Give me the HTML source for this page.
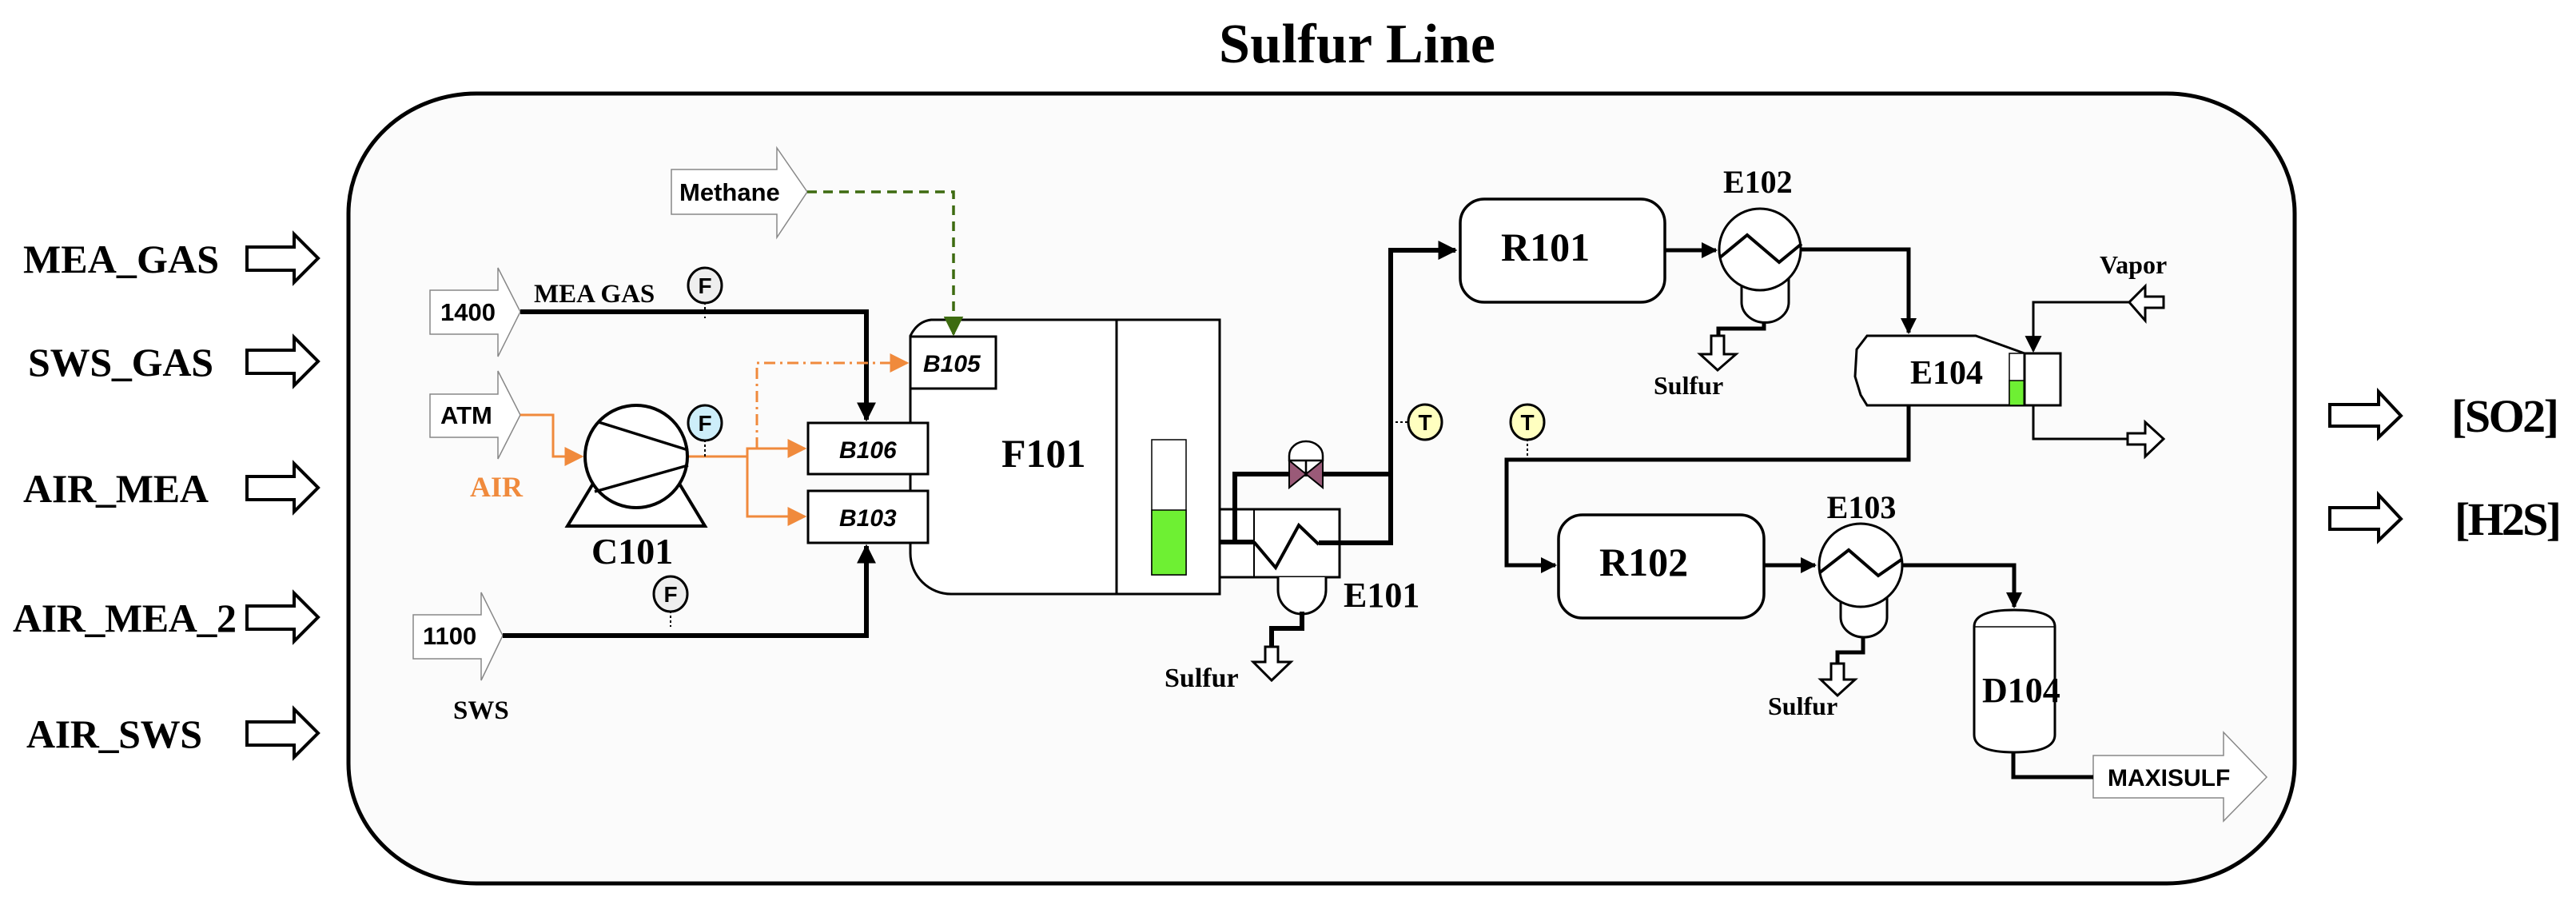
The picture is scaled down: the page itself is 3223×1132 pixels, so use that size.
<!DOCTYPE html>
<html><head><meta charset="utf-8"><style>
html,body{margin:0;padding:0;background:#fff}
svg{display:block}
.s{font-family:"Liberation Serif",serif;font-weight:bold}
.a{font-family:"Liberation Sans",sans-serif;font-weight:bold}
</style></head><body>
<svg width="3223" height="1132" viewBox="0 0 3223 1132" xmlns="http://www.w3.org/2000/svg">
<defs>
<marker id="ab" viewBox="0 0 10 10" refX="9" refY="5" markerWidth="4" markerHeight="4" orient="auto" markerUnits="strokeWidth"><path d="M0,0L10,5L0,10z" fill="#000"/></marker>
<marker id="ab2" viewBox="0 0 10 10" refX="9" refY="5" markerWidth="7" markerHeight="7" orient="auto" markerUnits="strokeWidth"><path d="M0,0L10,5L0,10z" fill="#000"/></marker>
<marker id="ao" viewBox="0 0 10 10" refX="9" refY="5" markerWidth="8" markerHeight="8" orient="auto" markerUnits="strokeWidth"><path d="M0,0L10,5L0,10z" fill="#f08a3c"/></marker>
<marker id="ag" viewBox="0 0 10 10" refX="9" refY="5" markerWidth="7" markerHeight="7" orient="auto" markerUnits="strokeWidth"><path d="M0,0L10,5L0,10z" fill="#3d6b10"/></marker>
</defs>
<text x="1698" y="78" class="s" font-size="70" text-anchor="middle" textLength="346">Sulfur Line</text>
<rect x="436" y="117" width="2435" height="988" rx="160" ry="150" fill="#fbfbfb" stroke="#000" stroke-width="5"/>

<!-- left labels -->
<g class="s" font-size="50">
<text x="29" y="341" textLength="245">MEA_GAS</text>
<text x="35" y="470" textLength="232">SWS_GAS</text>
<text x="29" y="628" textLength="232">AIR_MEA</text>
<text x="16" y="790" textLength="280">AIR_MEA_2</text>
<text x="33" y="935" textLength="220">AIR_SWS</text>
</g>
<g fill="#fff" stroke="#000" stroke-width="4">
<path d="M309,309H368V293L398,323L368,353V338H309Z"/>
<path d="M309,438H368V422L398,452L368,482V467H309Z"/>
<path d="M309,596H368V580L398,610L368,640V625H309Z"/>
<path d="M309,758H368V742L398,772L368,802V787H309Z"/>
<path d="M309,903H368V887L398,917L368,947V932H309Z"/>
<path d="M2915,506H2976V490L3004,520L2976,547V533H2915Z"/>
<path d="M2915,635H2976V619L3004,649L2976,676V662H2915Z"/>
</g>
<text x="3067" y="540" class="s" font-size="58" textLength="135">[SO2]</text>
<text x="3071" y="669" class="s" font-size="58" textLength="134">[H2S]</text>

<!-- feed arrows -->
<g fill="#fff" stroke="#888" stroke-width="1.5">
<path d="M840,212H972V185L1010,240L972,297V268H840Z"/>
<path d="M538,363H623V335L651,390L623,446V418H538Z"/>
<path d="M538,493H623V464L651,519L623,574V547H538Z"/>
<path d="M517,769H602V741L629,795L602,851V824H517Z"/>
<path d="M2619,945H2782V916L2836,972L2782,1027V998H2619Z"/>
</g>
<g class="a" font-size="31">
<text x="850" y="251">Methane</text>
<text x="551" y="401">1400</text>
<text x="551" y="530">ATM</text>
<text x="529" y="806">1100</text>
<text x="2637" y="983" font-size="30">MAXISULF</text>
</g>
<text x="668" y="378" class="s" font-size="33">MEA GAS</text>
<text x="567" y="899" class="s" font-size="33">SWS</text>
<text x="588" y="621" class="s" font-size="36" fill="#f08a3c">AIR</text>

<!-- black thick lines -->
<g fill="none" stroke="#000" stroke-width="6">
<path d="M651,390H1084V525" marker-end="url(#ab)"/>
<path d="M629,795H1084V683" marker-end="url(#ab)"/>
</g>

<!-- orange lines -->
<g fill="none" stroke="#f08a3c" stroke-width="3">
<path d="M651,519H692V571H728" marker-end="url(#ao)"/>
<path d="M861,571H935V561H1007" marker-end="url(#ao)"/>
<path d="M935,571V646H1007" marker-end="url(#ao)"/>
<path d="M947,561V454H1135" stroke-dasharray="14,6,3,6" marker-end="url(#ao)"/>
</g>

<!-- compressor -->
<path d="M745,600L710,658H882L847,600" fill="#fff" stroke="#000" stroke-width="4"/>
<circle cx="796" cy="571" r="64" fill="#fff" stroke="#000" stroke-width="4"/>
<path d="M749,528L861,563M744,615L861,582" stroke="#000" stroke-width="3.5"/>
<text x="740" y="705" class="s" font-size="46">C101</text>

<!-- instrument circles -->
<g stroke="#000" stroke-width="2" stroke-dasharray="3,3">
<path d="M882,378V398"/><path d="M882,550V571"/><path d="M839,764V784"/>
<path d="M1740,528H1762"/><path d="M1911,507V574"/>
</g>
<g stroke="#000" stroke-width="3">
<ellipse cx="882" cy="357" rx="21" ry="22" fill="#eee"/>
<ellipse cx="882" cy="529" rx="21" ry="22" fill="#cdeefa"/>
<ellipse cx="839" cy="743" rx="21" ry="22" fill="#eee"/>
<ellipse cx="1204" cy="572" rx="21" ry="22" fill="#ffffc0"/>
<ellipse cx="1204" cy="658" rx="21" ry="22" fill="#ffffc0"/>
<ellipse cx="1783" cy="528" rx="21" ry="22" fill="#ffffc0"/>
<ellipse cx="1911" cy="528" rx="21" ry="22" fill="#ffffc0"/>
</g>
<g class="a" font-size="28" text-anchor="middle">
<text x="882" y="367">F</text><text x="882" y="539">F</text><text x="839" y="753">F</text>
<text x="1204" y="582">T</text><text x="1204" y="668">T</text><text x="1783" y="538">T</text><text x="1911" y="538">T</text>
</g>

<!-- F101 -->
<path d="M1165,400H1526V743H1190A51,51 0 0 1 1139,692V420Q1148,402 1165,400Z" fill="#fff" stroke="#000" stroke-width="3"/>
<path d="M1397,400V743" stroke="#000" stroke-width="3"/>
<rect x="1441" y="550" width="43" height="169" fill="#fff" stroke="#000" stroke-width="1.5"/>
<rect x="1441" y="638" width="43" height="81" fill="#6ef033" stroke="#000" stroke-width="1.5"/>
<g fill="#fff" stroke="#000" stroke-width="3">
<rect x="1139" y="421" width="107" height="65"/>
<rect x="1011" y="529" width="150" height="64"/>
<rect x="1011" y="614" width="150" height="65"/>
</g>
<g class="a" font-size="30" font-style="italic">
<text x="1155" y="465">B105</text><text x="1050" y="573">B106</text><text x="1050" y="658">B103</text>
</g>
<text x="1253" y="584" class="s" font-size="50">F101</text>

<!-- methane dashed -->
<path d="M1010,240H1193V418" fill="none" stroke="#3d6b10" stroke-width="3.5" stroke-dasharray="12,8" marker-end="url(#ag)"/>

<!-- E101 -->
<rect x="1526" y="637" width="150" height="85" fill="#fff" stroke="#000" stroke-width="3"/>
<path d="M1569,637V722" stroke="#000" stroke-width="2"/>
<path d="M1599,722V738A30,30 0 0 0 1659,738V722" fill="#fff" stroke="#000" stroke-width="3"/>
<g fill="none" stroke="#000" stroke-width="6">
<path d="M1526,678H1569"/>
<path d="M1545,678V593H1740"/>
<path d="M1650,679H1740V313H1821" marker-end="url(#ab)"/>
<path d="M1629,765V786H1591V809"/>
</g>
<path d="M1569,678L1596,710L1625,657L1650,681" fill="none" stroke="#000" stroke-width="4"/>
<path d="M1583,809H1599V828H1615L1591,851L1568,828H1583Z" fill="#fff" stroke="#000" stroke-width="3"/>
<text x="1457" y="859" class="s" font-size="34">Sulfur</text>
<text x="1681" y="759" class="s" font-size="44">E101</text>
<!-- valve -->
<path d="M1613,576H1655V570A21,18 0 0 0 1613,570Z" fill="#fff" stroke="#000" stroke-width="2.5"/>
<path d="M1634,576V593" stroke="#000" stroke-width="2.5"/>
<path d="M1613,576L1655,610V576L1613,610Z" fill="#9a5a78" stroke="#000" stroke-width="2"/>

<!-- R101 -->
<rect x="1827" y="249" width="256" height="129" rx="30" fill="#fff" stroke="#000" stroke-width="3.5"/>
<text x="1878" y="326" class="s" font-size="50">R101</text>
<g fill="none" stroke="#000" stroke-width="5">
<path d="M2083,313H2147" marker-end="url(#ab)"/>
<path d="M2254,312H2388V416" marker-end="url(#ab)"/>
<path d="M2207,403V411H2150V420"/>
<path d="M2388,507V575H1885V707H1946" marker-end="url(#ab)"/>
<path d="M2207,707H2271" marker-end="url(#ab)"/>
<path d="M2379,707H2520V759" marker-end="url(#ab)"/>
<path d="M2331,797V816H2299V830"/>
<path d="M2519,941V972H2619"/>
</g>
<g fill="none" stroke="#000" stroke-width="3">
<path d="M2664,378H2544V439" marker-end="url(#ab2)"/>
<path d="M2544,507V549H2662"/>
</g>
<!-- E102 -->
<path d="M2179,340V378A29,25 0 0 0 2238,378V340" fill="#fff" stroke="#000" stroke-width="3"/>
<circle cx="2202" cy="312" r="51" fill="#fff" stroke="#000" stroke-width="3"/>
<path d="M2152,322L2186,294L2226,328L2254,305" fill="none" stroke="#000" stroke-width="4"/>
<path d="M2141,420H2157V443H2172L2149,463L2127,443H2141Z" fill="#fff" stroke="#000" stroke-width="3"/>
<text x="2156" y="241" class="s" font-size="40">E102</text>
<text x="2069" y="493" class="s" font-size="32">Sulfur</text>
<!-- E104 -->
<path d="M2336,420H2472L2533,442V507H2336L2328,494L2321,471L2323,437Z" fill="#fff" stroke="#000" stroke-width="3"/>
<rect x="2514" y="442" width="19" height="65" fill="#fff" stroke="#000" stroke-width="1.5"/>
<rect x="2514" y="476" width="19" height="31" fill="#6ef033" stroke="#000" stroke-width="1.5"/>
<rect x="2533" y="442" width="45" height="65" fill="#fff" stroke="#000" stroke-width="3"/>
<text x="2390" y="480" class="s" font-size="42">E104</text>
<text x="2627" y="342" class="s" font-size="32">Vapor</text>
<path d="M2707,371H2684V358L2664,378L2684,401V385H2707Z" fill="#fff" stroke="#000" stroke-width="3"/>
<path d="M2662,542H2684V528L2707,549L2684,571V556H2662Z" fill="#fff" stroke="#000" stroke-width="3"/>
<!-- R102 -->
<rect x="1950" y="644" width="257" height="129" rx="30" fill="#fff" stroke="#000" stroke-width="3.5"/>
<text x="2001" y="720" class="s" font-size="50">R102</text>
<!-- E103 -->
<path d="M2303,735V772A29,25 0 0 0 2361,772V735" fill="#fff" stroke="#000" stroke-width="3"/>
<circle cx="2328" cy="707" r="52" fill="#fff" stroke="#000" stroke-width="3"/>
<path d="M2277,716L2313,688L2350,720L2379,700" fill="none" stroke="#000" stroke-width="4"/>
<path d="M2291,830H2307V850H2321L2299,870L2278,850H2291Z" fill="#fff" stroke="#000" stroke-width="3"/>
<text x="2329" y="648" class="s" font-size="40" text-anchor="middle">E103</text>
<text x="2212" y="894" class="s" font-size="32">Sulfur</text>
<!-- D104 -->
<path d="M2470,784Q2470,763 2520,763Q2571,763 2571,784V919Q2571,941 2520,941Q2470,941 2470,919Z" fill="#fff" stroke="#000" stroke-width="3"/>
<path d="M2470,784H2571" stroke="#000" stroke-width="1.5"/>
<text x="2480" y="878" class="s" font-size="44">D104</text>
</svg>
</body></html>
